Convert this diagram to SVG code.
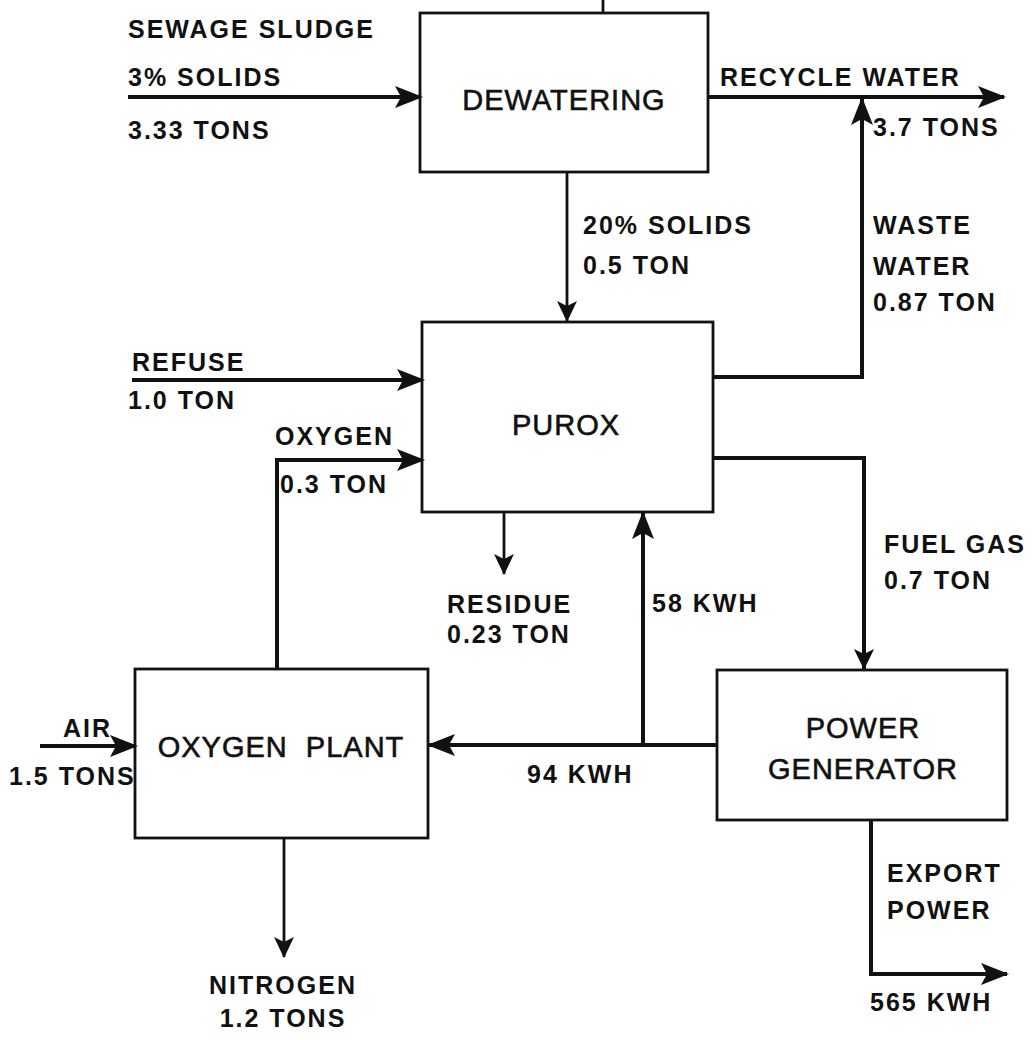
<svg xmlns="http://www.w3.org/2000/svg" width="1032" height="1040" viewBox="0 0 1032 1040">
<style>
.box{fill:none;stroke:#111;stroke-width:2.8}
.ln{fill:none;stroke:#111;stroke-width:4;stroke-linejoin:miter}
.thin{fill:none;stroke:#111;stroke-width:2.8}
.lbl{font-family:"Liberation Sans",Arial,sans-serif;font-weight:bold;font-size:25px;letter-spacing:2px;fill:#111}
.big{font-family:"Liberation Sans",Arial,sans-serif;font-size:29px;letter-spacing:1px;fill:#111;stroke:#111;stroke-width:0.6}
</style>
<defs>
<marker id="ah" markerUnits="userSpaceOnUse" markerWidth="30" markerHeight="26" refX="26" refY="13" orient="auto">
<path d="M0,2 L28,13 L0,24 L6,13 Z" fill="#111"/>
</marker>
<marker id="as" markerUnits="userSpaceOnUse" markerWidth="24" markerHeight="22" refX="20" refY="11" orient="auto">
<path d="M0,1 L21,11 L0,21 L5,11 Z" fill="#111"/>
</marker>
</defs>
<rect width="1032" height="1040" fill="#fff"/>
<g id="connectors">
<path class="thin" d="M603,0 V13"/>
<path class="ln" d="M128,97 H421" marker-end="url(#ah)"/>
<path class="ln" d="M708,97 H1004" marker-end="url(#ah)"/>
<path class="ln" d="M713,377 H862 V99" marker-end="url(#ah)"/>
<path class="thin" d="M567,172 V321" marker-end="url(#as)"/>
<path class="ln" d="M132,380 H423" marker-end="url(#ah)"/>
<path class="ln" d="M277,668 V460 H423" marker-end="url(#ah)"/>
<path class="thin" d="M504,512 V574" marker-end="url(#as)"/>
<path class="ln" d="M713,458 H864 V669" marker-end="url(#as)"/>
<path class="ln" d="M717,745 H429" marker-end="url(#ah)"/>
<path class="ln" d="M643,745 V513" marker-end="url(#ah)"/>
<path class="ln" d="M40,746 H136" marker-end="url(#ah)"/>
<path class="thin" d="M284,838 V957" marker-end="url(#as)"/>
<path class="ln" d="M871,820 V974 H1007" marker-end="url(#ah)"/>
</g>
<g id="dewatering">
<rect class="box" x="420" y="13" width="288" height="159"/>
<text class="big" x="564" y="110" text-anchor="middle">DEWATERING</text>
</g>
<g id="purox">
<rect class="box" x="422" y="322" width="291" height="190"/>
<text class="big" x="566" y="435" text-anchor="middle">PUROX</text>
</g>
<g id="oxygen-plant">
<rect class="box" x="135" y="669" width="293" height="169"/>
<text class="big" x="281" y="757" text-anchor="middle" xml:space="preserve">OXYGEN  PLANT</text>
</g>
<g id="power-generator">
<rect class="box" x="717" y="670" width="290" height="150"/>
<text class="big" x="863" y="738" text-anchor="middle">POWER</text>
<text class="big" x="863" y="779" text-anchor="middle">GENERATOR</text>
</g>
<g id="labels">
<text class="lbl" x="128" y="38">SEWAGE SLUDGE</text>
<text class="lbl" x="128" y="86">3% SOLIDS</text>
<text class="lbl" x="128" y="139">3.33 TONS</text>
<text class="lbl" x="720" y="86">RECYCLE WATER</text>
<text class="lbl" x="873" y="136">3.7 TONS</text>
<text class="lbl" x="583" y="234">20% SOLIDS</text>
<text class="lbl" x="583" y="274">0.5 TON</text>
<text class="lbl" x="873" y="234">WASTE</text>
<text class="lbl" x="873" y="275">WATER</text>
<text class="lbl" x="873" y="311">0.87 TON</text>
<text class="lbl" x="132" y="371">REFUSE</text>
<text class="lbl" x="128" y="409">1.0 TON</text>
<text class="lbl" x="275" y="445">OXYGEN</text>
<text class="lbl" x="280" y="493">0.3 TON</text>
<text class="lbl" x="447" y="613">RESIDUE</text>
<text class="lbl" x="447" y="643">0.23 TON</text>
<text class="lbl" x="652" y="612">58 KWH</text>
<text class="lbl" x="884" y="553" letter-spacing="1.5">FUEL GAS</text>
<text class="lbl" x="884" y="589">0.7 TON</text>
<text class="lbl" x="527" y="783">94 KWH</text>
<text class="lbl" x="63" y="737">AIR</text>
<text class="lbl" x="9" y="785" letter-spacing="0.8">1.5 TONS</text>
<text class="lbl" x="283" y="994" text-anchor="middle">NITROGEN</text>
<text class="lbl" x="283" y="1027" text-anchor="middle">1.2 TONS</text>
<text class="lbl" x="887" y="882">EXPORT</text>
<text class="lbl" x="887" y="919">POWER</text>
<text class="lbl" x="870" y="1011">565 KWH</text>
</g>
</svg>
